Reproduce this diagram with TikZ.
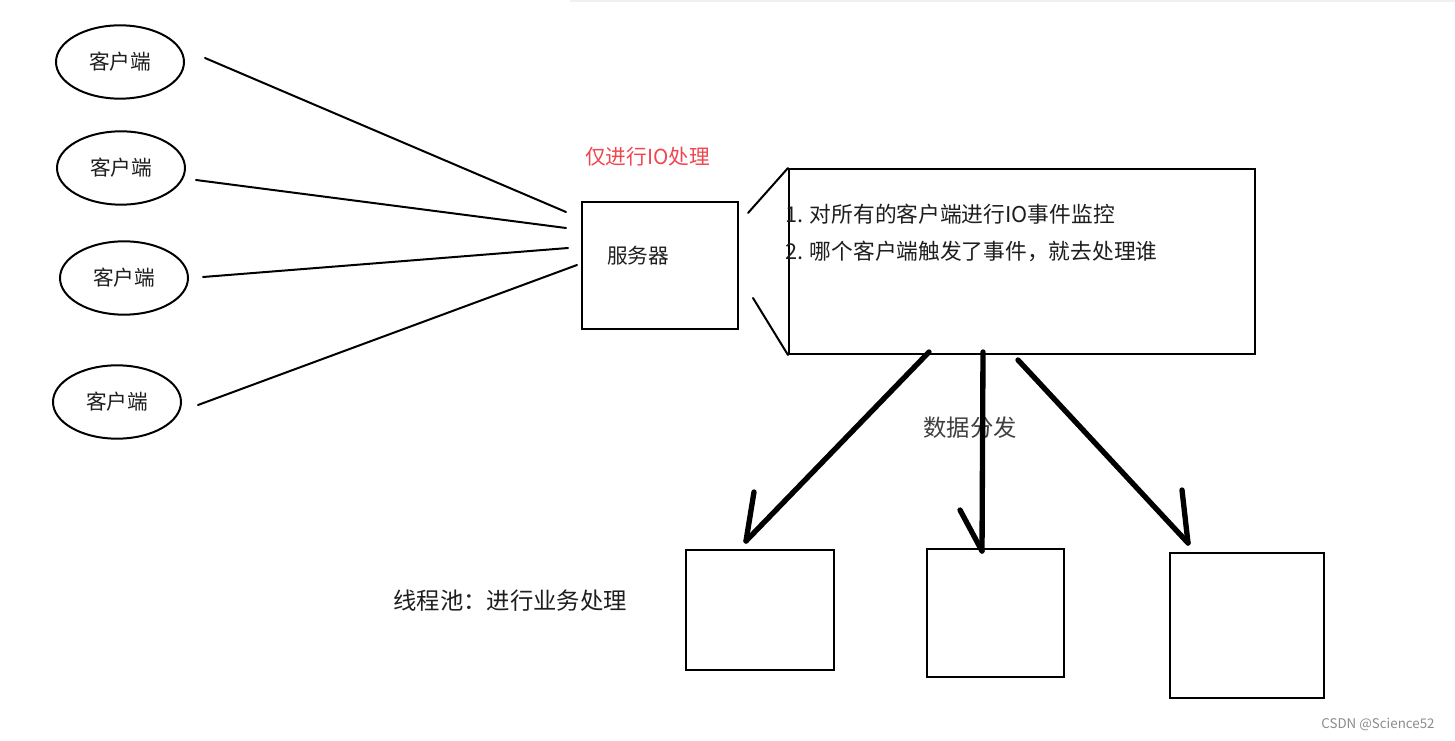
\documentclass[tikz,border=0pt]{standalone}
\usepackage{fontspec}
\setmainfont{Noto Sans CJK SC}
\usetikzlibrary{shapes.geometric}
\definecolor{ioRed}{RGB}{240,70,80}
\definecolor{txt}{RGB}{30,30,30}
\begin{document}
\begin{tikzpicture}[x=0.75pt,y=-0.75pt,
  client/.style={draw,line width=1.5pt,ellipse,minimum width=96pt,minimum height=55pt,inner sep=0pt,font=\fontsize{15.5}{18}\selectfont,text=txt},
  thin/.style={line width=1.5pt,line cap=round},
  thick/.style={line width=4pt,line cap=round},
  lbl/.style={font=\fontsize{15.5}{18}\selectfont,text=txt,inner sep=0pt},
  box/.style={draw,line width=1.5pt}]
\useasboundingbox (0,0) rectangle (1455,741);
\fill[white] (0,0) rectangle (1455,741);
\fill[black!6] (570,0) rectangle (1455,2);
% clients
\node[client] (c1) at (120,62) {客户端};
\node[client] (c2) at (121,168) {客户端};
\node[client] (c3) at (124,278) {客户端};
\node[client] (c4) at (117,402) {客户端};
% server
\node[box,minimum width=117pt,minimum height=95pt,inner sep=0pt] (srv) at (660,265.5) {};
\node[lbl,anchor=west] (srvt) at (607,256) {服务器};
\node[lbl,text=ioRed,anchor=west] (io) at (585,157) {仅进行IO处理};
% connectors clients -> server
\coordinate (c1o) at (205,58);   \coordinate (s1) at (566,212);
\coordinate (c2o) at (196,180);  \coordinate (s2) at (566,228);
\coordinate (c3o) at (203,277);  \coordinate (s3) at (568,248);
\coordinate (c4o) at (198,405);  \coordinate (s4) at (577,265);
\draw[thin] (c1o) -- (s1);
\draw[thin] (c2o) -- (s2);
\draw[thin] (c3o) -- (s3);
\draw[thin] (c4o) -- (s4);
% big box
\node[box,minimum width=349.5pt,minimum height=138.75pt,inner sep=0pt] (big) at (1022,261.5) {};
\coordinate (z1) at (748,213); \coordinate (z2) at (753,298);
\draw[thin] (z1) -- (big.north west);
\draw[thin] (z2) -- (big.south west);
\node[lbl,font=\fontsize{16.3}{19}\selectfont,anchor=west] (l1) at (785,214) {1. 对所有的客户端进行IO事件监控};
\node[lbl,font=\fontsize{16.3}{19}\selectfont,anchor=west] (l2) at (785,251) {2. 哪个客户端触发了事件，就去处理谁};
% worker boxes
\node[box,minimum width=111pt,minimum height=90pt,inner sep=0pt] (w1) at (760,610) {};
\node[box,minimum width=102.75pt,minimum height=96pt,inner sep=0pt] (w2) at (995.5,613) {};
\node[box,minimum width=115.5pt,minimum height=108.75pt,inner sep=0pt] (w3) at (1247,625.5) {};
\node[font=\fontsize{17.5}{20}\selectfont,text=txt!85,inner sep=0pt] (dist) at (970,428) {数据分发};
\node[font=\fontsize{17.5}{20}\selectfont,text=txt,inner sep=0pt] (pool) at (510,601) {线程池：进行业务处理};
% arrows
\coordinate (a1s) at (929,352); \coordinate (a1e) at (746,541); \coordinate (b1) at (754,492);
\coordinate (a2s) at (983,352); \coordinate (a2e) at (982,551); \coordinate (b2) at (960,510);
\coordinate (a3s) at (1018,360); \coordinate (a3e) at (1188,543); \coordinate (b3) at (1182,490);
\draw[thick] (a1s) -- (a1e); \draw[thick] (b1) -- (a1e);
\draw[thick] (a2s) -- (a2e); \draw[thick] (b2) -- (a2e);
\draw[thick] (a3s) -- (a3e); \draw[thick] (b3) -- (a3e);
% watermark
\node[font=\fontsize{10}{12}\selectfont,text=black!45,inner sep=0pt] (wm) at (1378,724) {CSDN @Science52};
\end{tikzpicture}
\end{document}
